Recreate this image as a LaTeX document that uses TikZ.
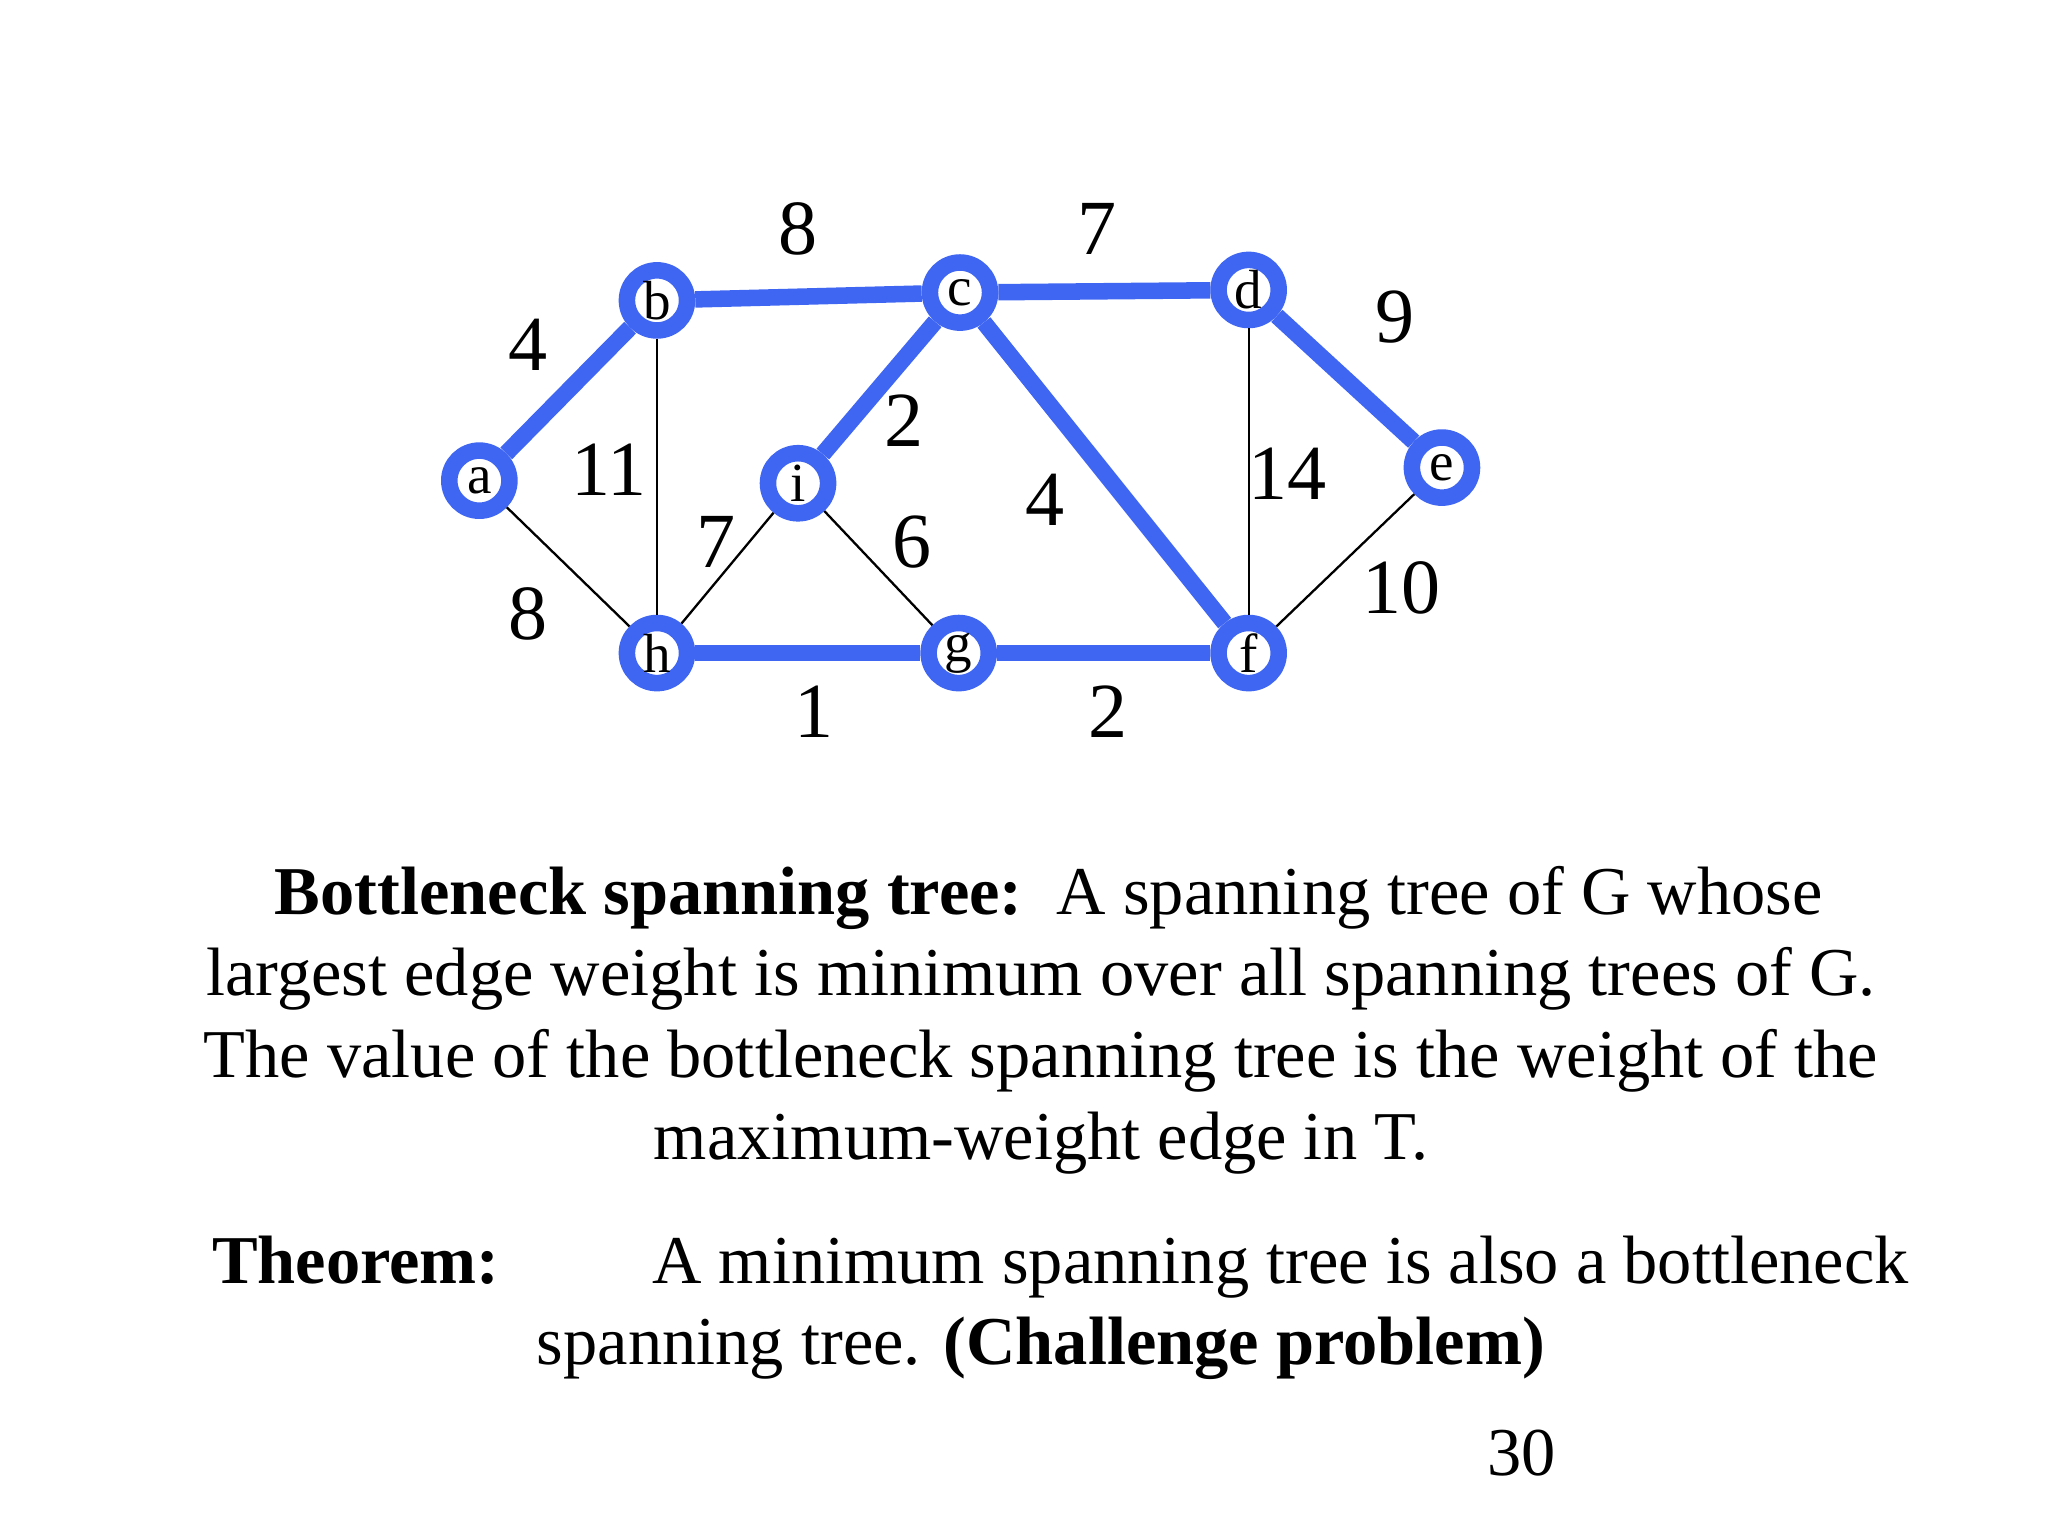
\documentclass[tikz,border=0pt]{standalone}
\usepackage{fontspec}
\setmainfont{Liberation Serif}
\definecolor{treeblue}{HTML}{3F66F2}
\begin{document}
\begin{tikzpicture}[x=0.01cm,y=-0.01cm,
	vert/.style={circle,draw=treeblue,line width=3.6pt,fill=white,minimum size=0.46cm,inner sep=0pt,font=\fontsize{12}{12}\selectfont},
	tree/.style={line width=3.6pt,draw=treeblue},
	thin/.style={draw=black,line width=0.5pt},
	wt/.style={font=\fontsize{17}{17}\selectfont},
	txt/.style={font=\fontsize{14.9}{18}\selectfont,anchor=base}]
	\useasboundingbox (0,0) rectangle (1568,1176);
	% vertices
	\node[vert] (a) at (367,368) {a};
	\node[vert] (b) at (503,230) {b};
	\node[vert] (c) at (735,224) {c};
	\node[vert] (d) at (956,222) {d};
	\node[vert] (e) at (1104,358) {e};
	\node[vert] (i) at (611,370) {i};
	\node[vert] (h) at (503,500) {h};
	\node[vert] (g) at (734,500) {g};
	\node[vert] (f) at (956,500) {f};
	% edges
	\foreach \u/\v in {a/h,b/h,i/h,i/g,d/f,e/f}
		\draw[thin] (\u) -- (\v);
	\foreach \u/\v in {a/b,b/c,c/d,d/e,c/i,c/f,h/g,g/f}
		\draw[tree] (\u) -- (\v);
	% weights
	\node[wt] at (611,175) {8};
	\node[wt] at (840,175) {7};
	\node[wt] at (404,264) {4};
	\node[wt] at (1068,243) {9};
	\node[wt] at (692,322) {2};
	\node[wt] at (466,360) {11};
	\node[wt] at (800,383) {4};
	\node[wt] at (986,363) {14};
	\node[wt] at (548,415) {7};
	\node[wt] at (698,415) {6};
	\node[wt] at (404,470) {8};
	\node[wt] at (1073,450) {10};
	\node[wt] at (623,545) {1};
	\node[wt] at (848,545) {2};
	% text
	\node[txt] (l1) at (803,700) {\textbf{Bottleneck spanning tree:}\ \ A spanning tree of G whose};
	\node[txt] (l2) at (797,762) {largest edge weight is minimum over all spanning trees of G.};
	\node[txt] (l3) at (797,825) {The value of the bottleneck spanning tree is the weight of the};
	\node[txt] (l4) at (797,888) {maximum-weight edge in T.};
	\node[txt,anchor=base west] (th) at (150,983) {\textbf{Theorem:}};
	\node[txt,anchor=base west] (t1) at (487,983) {A minimum spanning tree is also a bottleneck};
	\node[txt] (t2) at (797,1045) {spanning tree. \textbf{(Challenge problem)}};
	\node[txt] (pg) at (1165,1130) {30};
\end{tikzpicture}
\end{document}
